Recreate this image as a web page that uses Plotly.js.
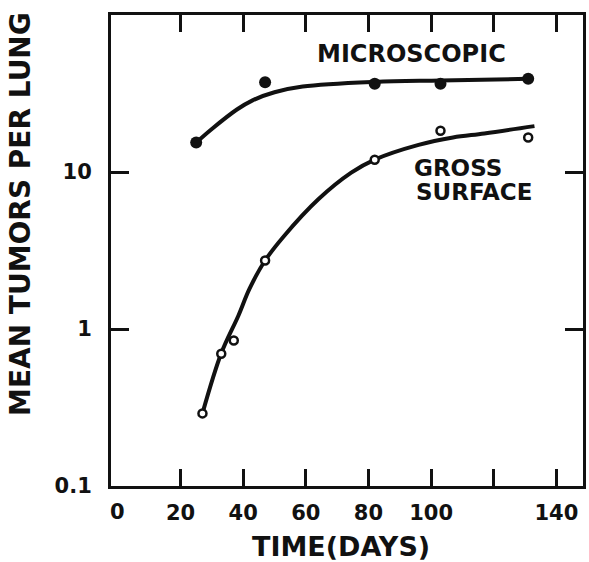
<!DOCTYPE html>
<html>
<head>
<meta charset="utf-8">
<script src="https://cdn.plot.ly/plotly-3.0.1.min.js"></script>
<style>
  html, body { margin: 0; padding: 0; background: #ffffff; }
  #chart { width: 589px; height: 562px; }
</style>
</head>
<body>
<div id="chart"></div>
<script>
// Observed points
var microDays = [25, 47, 82, 103, 131];
var microTumors = [15.4, 37.3, 36.5, 36.5, 39.2];
var grossDays = [27, 33, 37, 47, 82, 103, 131];
var grossTumors = [0.29, 0.695, 0.845, 2.73, 11.96, 18.3, 16.6];

// Hand-drawn fitted curves
var microFitDays = [25, 30, 38, 43, 50, 59, 82, 103, 131];
var microFitTumors = [15.4, 18.8, 25.0, 28.6, 32.2, 35.0, 37.5, 38.3, 39.2];
var grossFitDays = [27, 33, 38.5, 42, 47, 53, 64, 74.5, 82, 96, 107, 117, 133];
var grossFitTumors = [0.29, 0.7, 1.22, 1.8, 2.73, 3.9, 6.7, 9.9, 12, 14.9, 16.6, 17.6, 19.6];

// Axis ticks
var xTickVals = [20, 40, 60, 80, 100, 120, 140];
var xTickText = ['20', '40', '60', '80', '100', '', '140'];
var yTickVals = [0.1, 1, 10];
var yTickText = ['0.1', '1', '10'];

var FONT = 'DejaVu Sans, sans-serif';
var INK = '#111111';

var traces = [
  {x: microFitDays, y: microFitTumors, mode: 'lines', type: 'scatter', name: 'Microscopic fit',
   line: {color: INK, width: 4, shape: 'spline', smoothing: 1}, hoverinfo: 'skip', showlegend: false},
  {x: grossFitDays, y: grossFitTumors, mode: 'lines', type: 'scatter', name: 'Gross surface fit',
   line: {color: INK, width: 4, shape: 'spline', smoothing: 1}, hoverinfo: 'skip', showlegend: false},
  {x: microDays, y: microTumors, mode: 'markers', type: 'scatter', name: 'Microscopic',
   marker: {color: INK, size: 12, symbol: 'circle'}, showlegend: false},
  {x: grossDays, y: grossTumors, mode: 'markers', type: 'scatter', name: 'Gross surface',
   marker: {color: '#ffffff', size: 8, symbol: 'circle', line: {color: INK, width: 2.5}}, showlegend: false}
];

var layout = {
  width: 589, height: 562,
  margin: {l: 111, r: 6, t: 15, b: 76},
  paper_bgcolor: '#ffffff', plot_bgcolor: '#ffffff',
  showlegend: false,
  font: {family: FONT, color: INK},
  xaxis: {
    range: [-2.2, 148.5],
    tickvals: xTickVals, ticktext: xTickText,
    ticks: 'inside', ticklen: 17, tickwidth: 3, tickcolor: INK,
    showline: true, linewidth: 3, linecolor: INK, mirror: 'ticks',
    showgrid: false, zeroline: false,
    tickfont: {family: FONT, size: 21, weight: 'bold', color: INK},
    ticklabelstandoff: 6
  },
  yaxis: {
    type: 'log', range: [-1, 2],
    tickvals: yTickVals, ticktext: yTickText,
    ticks: 'inside', ticklen: 18, tickwidth: 3, tickcolor: INK,
    showline: true, linewidth: 3, linecolor: INK, mirror: 'ticks',
    showgrid: false, zeroline: false,
    tickfont: {family: FONT, size: 21, weight: 'bold', color: INK},
    ticklabelstandoff: 12
  },
  annotations: [
    {text: '0', xref: 'x', yref: 'paper', x: 0, y: -0.0552, xanchor: 'center', yanchor: 'middle',
     showarrow: false, font: {family: FONT, size: 21, weight: 'bold', color: INK}},
    {text: 'TIME(DAYS)', xref: 'paper', yref: 'paper', x: 0.487, y: -0.128, xanchor: 'center', yanchor: 'middle',
     showarrow: false, font: {family: FONT, size: 27, weight: 'bold', color: INK}},
    {text: 'MEAN TUMORS PER LUNG', xref: 'paper', yref: 'paper', x: -0.1907, y: 0.5775, textangle: -90,
     xanchor: 'center', yanchor: 'middle', showarrow: false,
     font: {family: FONT, size: 28, weight: 'bold', color: INK}},
    {text: 'MICROSCOPIC', xref: 'paper', yref: 'paper', x: 0.636, y: 0.917, xanchor: 'center', yanchor: 'middle',
     showarrow: false, font: {family: FONT, size: 24, weight: 'bold', color: INK}},
    {text: 'GROSS', xref: 'paper', yref: 'paper', x: 0.638, y: 0.675, xanchor: 'left', yanchor: 'middle',
     showarrow: false, font: {family: FONT, size: 23, weight: 'bold', color: INK}},
    {text: 'SURFACE', xref: 'paper', yref: 'paper', x: 0.642, y: 0.624, xanchor: 'left', yanchor: 'middle',
     showarrow: false, font: {family: FONT, size: 23, weight: 'bold', color: INK}}
  ]
};

Plotly.newPlot('chart', traces, layout, {staticPlot: true, displayModeBar: false});
</script>
</body>
</html>
